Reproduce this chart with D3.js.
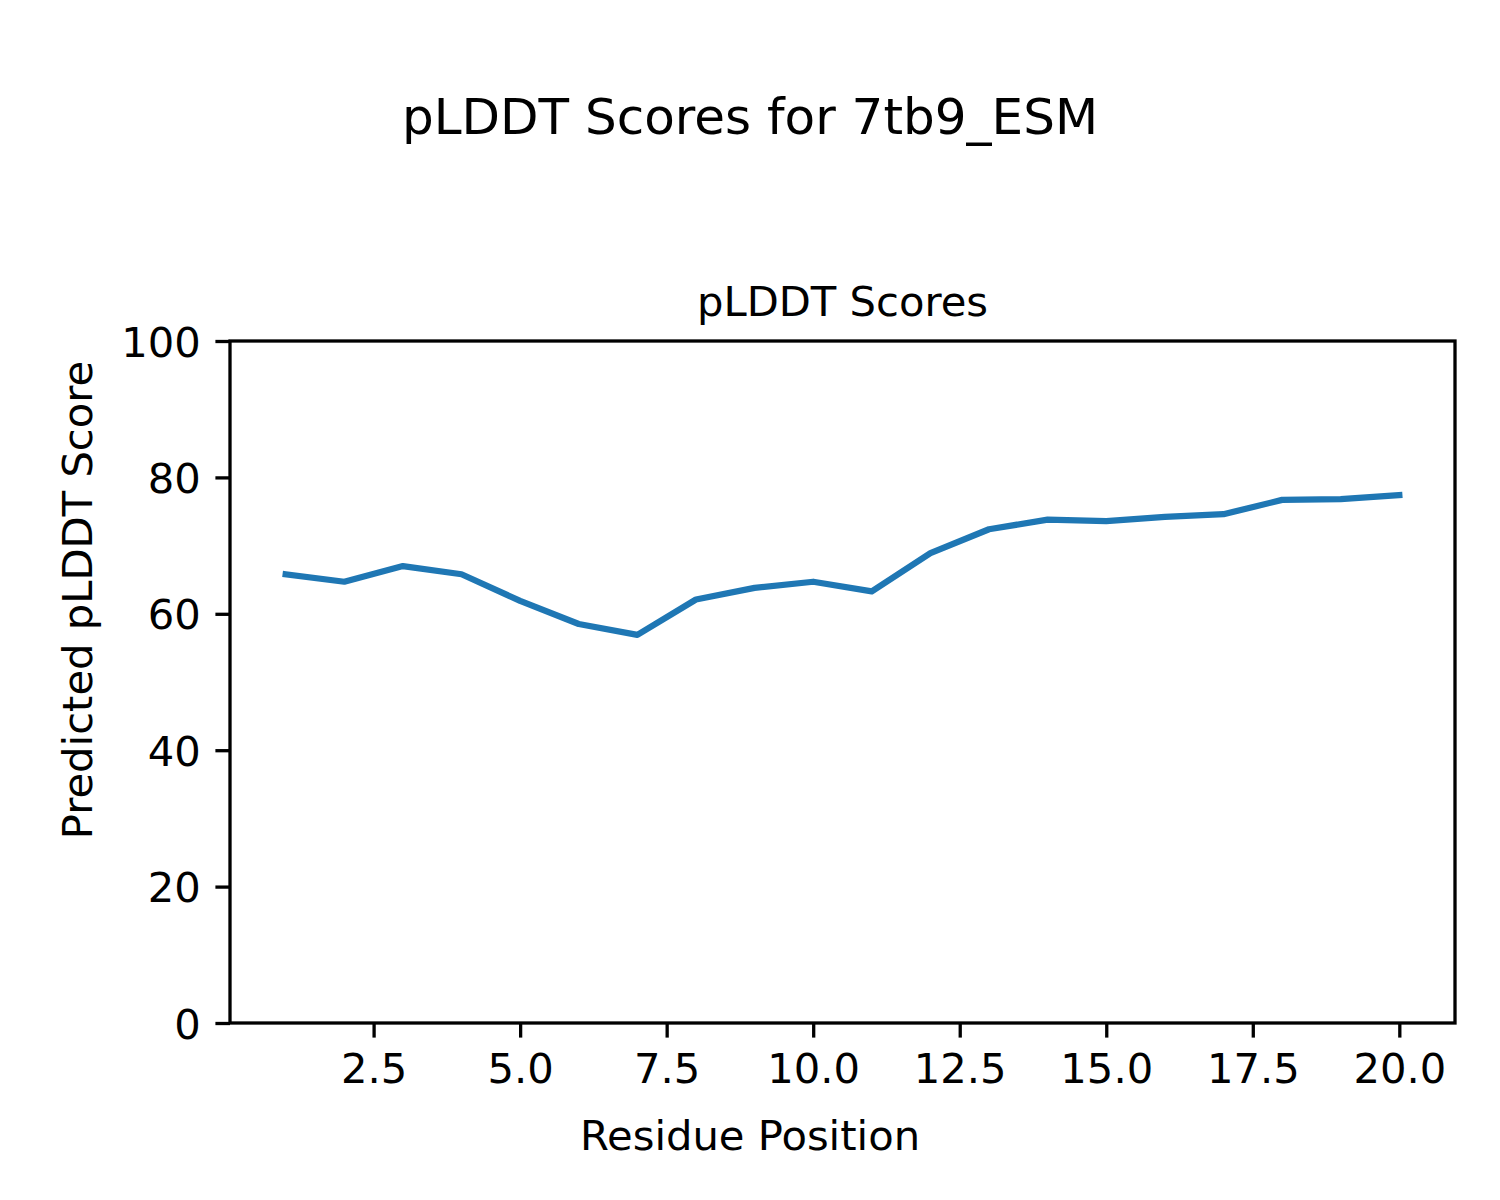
<!DOCTYPE html>
<html>
<head>
<meta charset="utf-8">
<script src="https://cdn.jsdelivr.net/npm/d3@7"></script>
<style>
  html, body { margin: 0; padding: 0; background: #fff; }
  text { font-family: "DejaVu Sans", sans-serif; fill: #000; }
</style>
</head>
<body>
<svg id="chart" width="1500" height="1200"></svg>
<script>
const residues = [1,2,3,4,5,6,7,8,9,10,11,12,13,14,15,16,17,18,19,20];
const plddt = [65.8,64.7,67.0,65.8,61.9,58.5,56.9,62.1,63.8,64.7,63.3,68.9,72.4,73.8,73.6,74.2,74.6,76.7,76.8,77.4];
const xTicks = [2.5,5.0,7.5,10.0,12.5,15.0,17.5,20.0];
const yTicks = [0,20,40,60,80,100];
const suptitle = "pLDDT Scores for 7tb9_ESM";
const axTitle = "pLDDT Scores";
const xLabel = "Residue Position";
const yLabel = "Predicted pLDDT Score";

(function(){
const svg = d3.select("#chart");
const pLeft = 230, pRight = 1455, pTop = 341, pBottom = 1023;

const x = d3.scaleLinear().domain([0.05, 20.95]).range([pLeft, pRight]);
const y = d3.scaleLinear().domain([0, 100]).range([pBottom, pTop]);

svg.append("rect").attr("x",0).attr("y",0).attr("width",1500).attr("height",1200).attr("fill","#fff");

// line
const line = d3.line().x((d,i)=>x(residues[i])).y(d=>y(d));
svg.append("path").datum(plddt)
  .attr("d", line)
  .attr("fill","none")
  .attr("stroke","#1f77b4")
  .attr("stroke-width",6.25)
  .attr("stroke-linejoin","round")
  .attr("stroke-linecap","square");

// axes
const xAxis = d3.axisBottom(x).tickValues(xTicks).tickFormat(d3.format(".1f")).tickSize(14.6).tickPadding(14.6);
const yAxis = d3.axisLeft(y).tickValues(yTicks).tickFormat(d3.format("d")).tickSize(14.6).tickPadding(14.6);

const gx = svg.append("g").attr("transform",`translate(0,${pBottom})`).call(xAxis);
const gy = svg.append("g").attr("transform",`translate(${pLeft},0)`).call(yAxis);
[gx, gy].forEach(g => {
  g.select(".domain").remove();
  g.selectAll(".tick line").attr("stroke","#000").attr("stroke-width",3.3);
  g.selectAll(".tick text").style("font-family","'DejaVu Sans', sans-serif").style("font-size","41.7px").attr("fill","#000");
});
gx.selectAll(".tick text").attr("dy", null).attr("y", 60);
gy.selectAll(".tick text").attr("dy", "0.36em");

// frame
svg.append("rect").attr("x",pLeft).attr("y",pTop).attr("width",pRight-pLeft).attr("height",pBottom-pTop)
  .attr("fill","none").attr("stroke","#000").attr("stroke-width",3.3);

// titles
svg.append("text").attr("x",750).attr("y",134).attr("text-anchor","middle").style("font-size","50px").text(suptitle);
svg.append("text").attr("x",(pLeft+pRight)/2).attr("y",316).attr("text-anchor","middle").style("font-size","41.7px").text(axTitle);
svg.append("text").attr("x",750).attr("y",1150).attr("text-anchor","middle").style("font-size","41.7px").text(xLabel);
svg.append("text").attr("transform","translate(92,600) rotate(-90)").attr("text-anchor","middle").style("font-size","41.7px").text(yLabel);
})();
</script>
</body>
</html>
